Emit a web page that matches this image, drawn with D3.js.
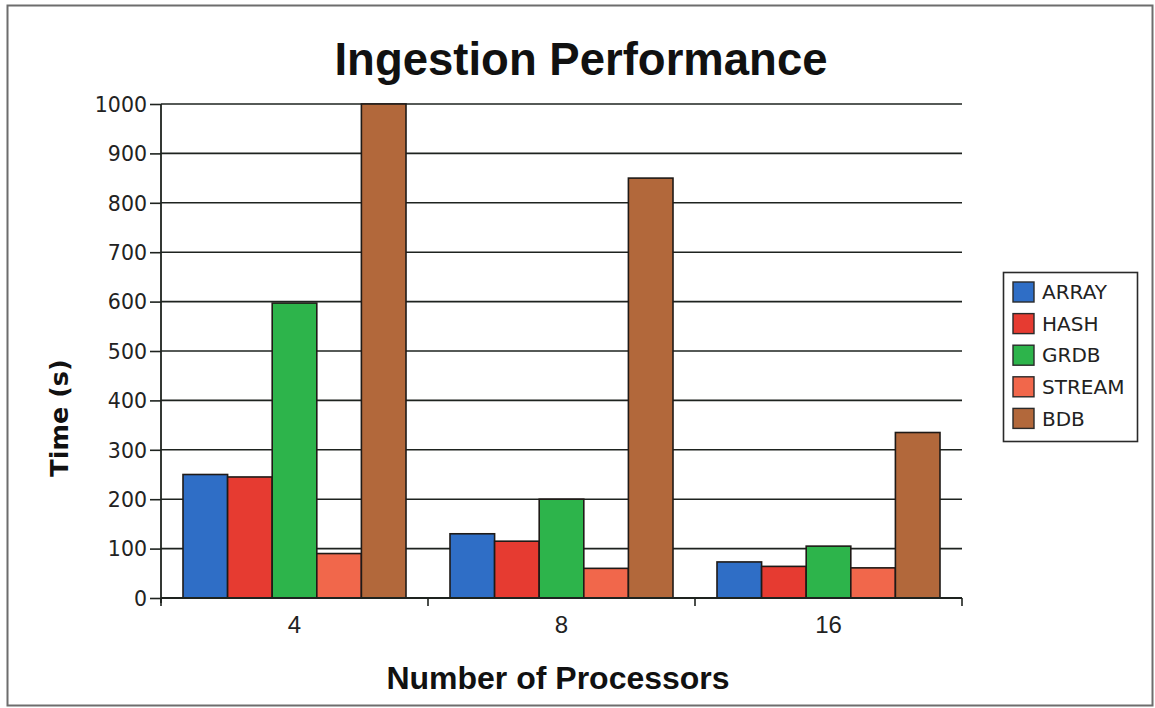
<!DOCTYPE html>
<html>
<head>
<meta charset="utf-8">
<script src="https://cdn.jsdelivr.net/npm/d3@7"></script>
<style>
  html, body { margin: 0; padding: 0; background: #fff; }
  svg { display: block; }
</style>
</head>
<body>
<svg id="chart" width="1155" height="708"></svg>
<script>
// Ingestion time per storage backend, grouped by processor count
const processors = ["4", "8", "16"];
const seriesNames = ["ARRAY", "HASH", "GRDB", "STREAM", "BDB"];
const arrayTimes  = [250, 130, 73];
const hashTimes   = [245, 115, 64];
const grdbTimes   = [597, 200, 105];
const streamTimes = [90, 60, 61];
const bdbTimes    = [1000, 850, 335];
const yTicks = [0, 100, 200, 300, 400, 500, 600, 700, 800, 900, 1000];
const seriesColors = ["#2f6ec6", "#e63b31", "#2db44b", "#f1674b", "#b2683b"];

const seriesValues = [arrayTimes, hashTimes, grdbTimes, streamTimes, bdbTimes];
const rows = processors.map((p, i) => ({
  key: p,
  values: seriesNames.map((s, j) => ({ series: s, value: seriesValues[j][i] }))
}));

const svg = d3.select("#chart");
const plot = { left: 161, right: 962, top: 104, bottom: 598 };

// outer frame
svg.append("rect")
  .attr("x", 7.5).attr("y", 5.5).attr("width", 1145).attr("height", 700)
  .attr("fill", "none").attr("stroke", "#6d6d6d").attr("stroke-width", 2);

const x0 = d3.scaleBand().domain(processors).range([plot.left, plot.right]).padding(0);
const x1 = d3.scaleBand().domain(seriesNames)
  .range([22, x0.bandwidth() - 22]).padding(0);
const y = d3.scaleLinear().domain([0, 1000]).range([plot.bottom, plot.top]);
const color = d3.scaleOrdinal().domain(seriesNames).range(seriesColors);

// horizontal grid
svg.append("g")
  .selectAll("line").data(yTicks.filter(t => t > 0)).join("line")
  .attr("x1", plot.left).attr("x2", plot.right)
  .attr("y1", d => y(d)).attr("y2", d => y(d))
  .attr("stroke", "#1e231f").attr("stroke-width", 1.6);

// bars
svg.append("g")
  .selectAll("g").data(rows).join("g")
  .attr("transform", d => `translate(${x0(d.key)},0)`)
  .selectAll("rect").data(d => d.values).join("rect")
  .attr("x", d => x1(d.series))
  .attr("y", d => y(d.value))
  .attr("width", x1.bandwidth())
  .attr("height", d => y(0) - y(d.value))
  .attr("fill", d => color(d.series))
  .attr("stroke", "#1f1a17").attr("stroke-width", 1.6);

// y axis
const yAxis = d3.axisLeft(y).tickValues(yTicks).tickFormat(d3.format("d"))
  .tickSize(11).tickPadding(3);
const gy = svg.append("g").attr("transform", `translate(${plot.left},0)`).call(yAxis);
gy.select(".domain").attr("d", `M0,${plot.top}V${plot.bottom + 5}`)
  .attr("stroke", "#1e231f").attr("stroke-width", 1.8);
gy.selectAll(".tick line").attr("stroke", "#1e231f").attr("stroke-width", 1.6);
gy.selectAll(".tick text")
  .attr("font-family", "DejaVu Sans, sans-serif").attr("font-size", 20.5)
  .attr("fill", "#222").attr("dy", "0.36em");

// x axis baseline and group separators
const gx = svg.append("g");
gx.append("line")
  .attr("x1", plot.left).attr("x2", plot.right)
  .attr("y1", plot.bottom).attr("y2", plot.bottom)
  .attr("stroke", "#1e231f").attr("stroke-width", 1.8);
const bounds = processors.map(p => x0(p)).concat([x0.range()[1]]);
gx.selectAll("line.sep").data(bounds).join("line").attr("class", "sep")
  .attr("x1", d => d).attr("x2", d => d)
  .attr("y1", plot.bottom).attr("y2", plot.bottom + 8)
  .attr("stroke", "#1e231f").attr("stroke-width", 1.6);
gx.selectAll("text").data(processors).join("text")
  .attr("x", d => x0(d) + x0.bandwidth() / 2)
  .attr("y", 633)
  .attr("text-anchor", "middle")
  .attr("font-family", "Liberation Sans, Arial, sans-serif").attr("font-size", 24)
  .attr("fill", "#222")
  .text(d => d);

// titles
svg.append("text")
  .attr("x", 581).attr("y", 75).attr("text-anchor", "middle")
  .attr("font-family", "Liberation Sans, Arial, sans-serif")
  .attr("font-weight", "bold").attr("font-size", 45.5).attr("fill", "#111")
  .text("Ingestion Performance");

svg.append("text")
  .attr("x", 558).attr("y", 689).attr("text-anchor", "middle")
  .attr("font-family", "Liberation Sans, Arial, sans-serif")
  .attr("font-weight", "bold").attr("font-size", 32).attr("fill", "#111")
  .text("Number of Processors");

svg.append("text")
  .attr("transform", "translate(68,418) rotate(-90)")
  .attr("text-anchor", "middle")
  .attr("font-family", "DejaVu Sans, sans-serif")
  .attr("font-weight", "bold").attr("font-size", 25.5).attr("fill", "#111")
  .text("Time (s)");

// legend
const legend = svg.append("g");
legend.append("rect")
  .attr("x", 1003.5).attr("y", 272.5).attr("width", 134).attr("height", 169)
  .attr("fill", "#fff").attr("stroke", "#2a2a2a").attr("stroke-width", 1.6);
const items = legend.selectAll("g").data(seriesNames).join("g")
  .attr("transform", (d, i) => `translate(1013,${292 + i * 31.6})`);
items.append("rect")
  .attr("x", 0).attr("y", -10).attr("width", 21).attr("height", 20)
  .attr("fill", d => color(d)).attr("stroke", "#2a2a2a").attr("stroke-width", 1.4);
items.append("text")
  .attr("x", 29).attr("y", 0).attr("dy", "0.36em")
  .attr("font-family", "DejaVu Sans, sans-serif").attr("font-size", 20)
  .attr("fill", "#222")
  .text(d => d);
</script>
</body>
</html>
